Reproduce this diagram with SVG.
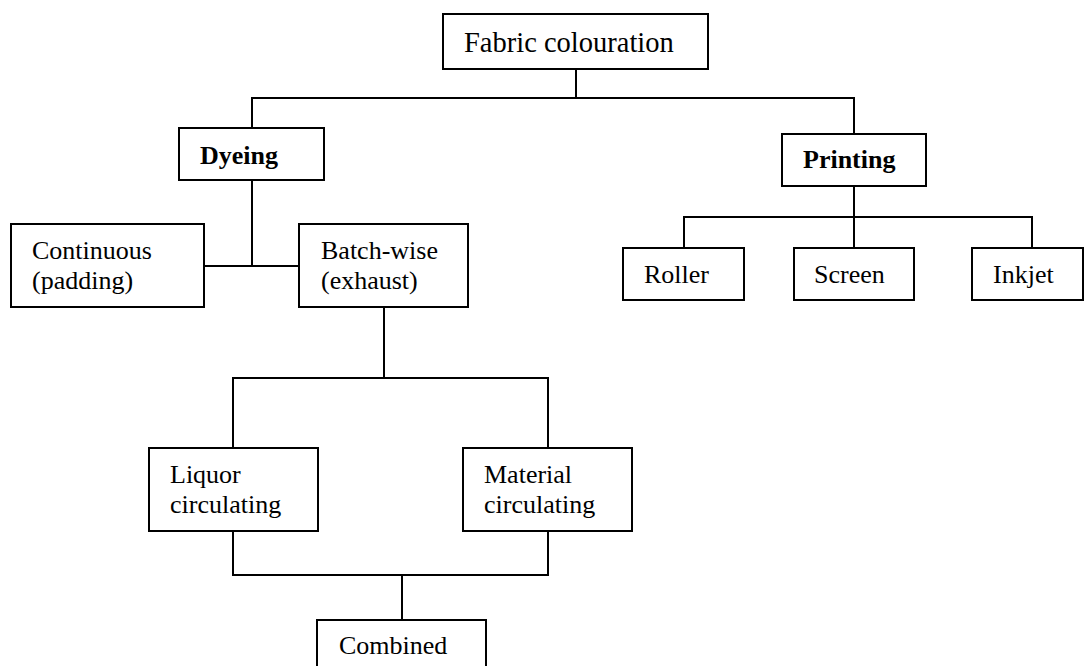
<svg xmlns="http://www.w3.org/2000/svg" width="1084" height="666" viewBox="0 0 1084 666">
  <style>
    .box { fill: #ffffff; stroke: #000000; stroke-width: 2; }
    .lbl { font-family: "Liberation Serif", "Times New Roman", serif; font-size: 26px; fill: #000000; }
    .bold { font-weight: bold; }
    .wire { fill: none; stroke: #000000; stroke-width: 2; }
  </style>
  <rect width="1084" height="666" fill="#ffffff"/>

  <!-- tree connectors -->
  <g id="connectors" class="wire">
    <polyline points="576,69 576,98"/>
    <polyline points="252,128 252,98 854,98 854,134"/>
    <polyline points="252,180 252,266"/>
    <polyline points="204,266 299,266"/>
    <polyline points="854,186 854,217"/>
    <polyline points="684,248 684,217 1032,217 1032,248"/>
    <polyline points="854,217 854,248"/>
    <polyline points="384,307 384,378"/>
    <polyline points="233,448 233,378 548,378 548,448"/>
    <polyline points="233,531 233,575 548,575 548,531"/>
    <polyline points="402,575 402,620"/>
  </g>

  <g id="fabric-colouration">
    <rect class="box" x="443" y="14" width="265" height="55"/>
    <text class="lbl" x="464" y="52" style="font-size:28.5px">Fabric colouration</text>
  </g>

  <g id="dyeing">
    <rect class="box" x="179" y="128" width="145" height="52"/>
    <text class="lbl bold" x="200" y="164">Dyeing</text>
  </g>

  <g id="printing">
    <rect class="box" x="782" y="134" width="144" height="52"/>
    <text class="lbl bold" x="803" y="168">Printing</text>
  </g>

  <g id="continuous">
    <rect class="box" x="11" y="224" width="193" height="83"/>
    <text class="lbl" x="32" y="259">Continuous</text>
    <text class="lbl" x="32" y="289">(padding)</text>
  </g>

  <g id="batch-wise">
    <rect class="box" x="299" y="224" width="169" height="83"/>
    <text class="lbl" x="321" y="259">Batch-wise</text>
    <text class="lbl" x="321" y="289">(exhaust)</text>
  </g>

  <g id="roller">
    <rect class="box" x="623" y="248" width="121" height="52"/>
    <text class="lbl" x="644" y="283">Roller</text>
  </g>

  <g id="screen">
    <rect class="box" x="794" y="248" width="120" height="52"/>
    <text class="lbl" x="814" y="283">Screen</text>
  </g>

  <g id="inkjet">
    <rect class="box" x="972" y="248" width="111" height="52"/>
    <text class="lbl" x="993" y="283">Inkjet</text>
  </g>

  <g id="liquor-circulating">
    <rect class="box" x="149" y="448" width="169" height="83"/>
    <text class="lbl" x="170" y="483">Liquor</text>
    <text class="lbl" x="170" y="513">circulating</text>
  </g>

  <g id="material-circulating">
    <rect class="box" x="463" y="448" width="169" height="83"/>
    <text class="lbl" x="484" y="483">Material</text>
    <text class="lbl" x="484" y="513">circulating</text>
  </g>

  <g id="combined">
    <rect class="box" x="317" y="620" width="169" height="83"/>
    <text class="lbl" x="339" y="654">Combined</text>
  </g>
</svg>
